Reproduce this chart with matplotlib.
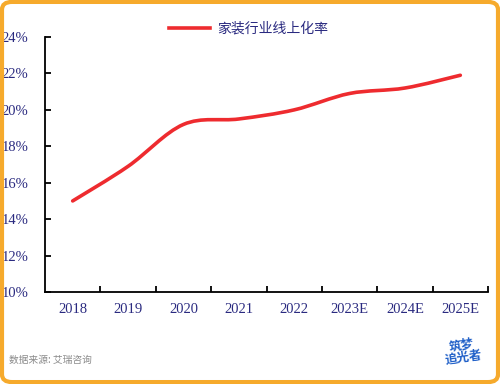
import matplotlib
matplotlib.use("Agg")
import matplotlib.pyplot as plt
from matplotlib.path import Path
from matplotlib.patches import PathPatch, FancyBboxPatch
from matplotlib.lines import Line2D
import numpy as np

categories = ["2018", "2019", "2020", "2021", "2022", "2023E", "2024E", "2025E"]
values = [15.0, 16.9, 19.2, 19.5, 20.0, 20.9, 21.2, 21.9]
series_name = "家装行业线上化率"
y_ticks = [10, 12, 14, 16, 18, 20, 22, 24]
source = "数据来源: 艾瑞咨询"

navy = "#2A2A80"
red = "#EE2B2F"
orange = "#F6AA2C"

fig = plt.figure(figsize=(5.0, 3.84), dpi=100)
ax = fig.add_axes([0.09, 0.2396, 0.886, 0.664])

# smoothed line (Catmull-Rom style Bezier, like Excel smoothing)
x = np.arange(len(values), dtype=float)
y = np.array(values)
verts = [(x[0], y[0])]
codes = [Path.MOVETO]
n = len(x)
for i in range(n - 1):
    p0 = (x[i - 1], y[i - 1]) if i > 0 else (x[i], y[i])
    p1 = (x[i], y[i])
    p2 = (x[i + 1], y[i + 1])
    p3 = (x[i + 2], y[i + 2]) if i + 2 < n else (x[i + 1], y[i + 1])
    c1 = (p1[0] + (p2[0] - p0[0]) / 6, p1[1] + (p2[1] - p0[1]) / 6)
    c2 = (p2[0] - (p3[0] - p1[0]) / 6, p2[1] - (p3[1] - p1[1]) / 6)
    verts += [c1, c2, p2]
    codes += [Path.CURVE4] * 3
ax.add_patch(PathPatch(Path(verts, codes), facecolor="none", edgecolor=red,
                       lw=2.6, capstyle="round", joinstyle="round"))

ax.set_xlim(-0.5, len(categories) - 0.5)
ax.set_ylim(y_ticks[0], y_ticks[-1])
ax.set_yticks(y_ticks)
ax.set_yticklabels([f"{t}%" for t in y_ticks])
ax.set_xticks(x)
ax.set_xticklabels(categories)
ax.set_xticks(np.arange(0.5, len(categories), 1.0), minor=True)

for s in ["top", "right"]:
    ax.spines[s].set_visible(False)
for s in ["left", "bottom"]:
    ax.spines[s].set_linewidth(1.3)
    ax.spines[s].set_color("black")

ax.tick_params(axis="y", direction="in", length=4, width=1.3, colors="black",
               labelcolor=navy, pad=12)
ax.tick_params(axis="x", which="major", length=0, labelcolor=navy, pad=8)
ax.tick_params(axis="x", which="minor", direction="in", length=4, width=1.3, colors="black")
for lab in ax.get_xticklabels() + ax.get_yticklabels():
    lab.set_fontfamily("Liberation Serif")
    lab.set_fontsize(10.5)

# legend
handle = Line2D([], [], color=red, lw=2.6)
leg = fig.legend([handle], [series_name], loc="center", bbox_to_anchor=(0.497, 0.925),
                 frameon=False, handlelength=3.0, handletextpad=0.5,
                 prop={"family": ["Noto Sans CJK SC", "DejaVu Sans"], "size": 10})
for t in leg.get_texts():
    t.set_color(navy)

fig.text(0.018, 0.062, source, fontsize=7, color="#8A8A8A",
         family=["Noto Sans CJK SC", "DejaVu Sans"], va="center")

# logo approximation
fig.text(0.925, 0.085, "筑梦\n追光者", fontsize=9, fontweight="bold", color="#1F5FC8",
         family=["Noto Sans CJK SC", "DejaVu Sans"], ha="center", va="center",
         rotation=8, linespacing=0.95)

# rounded orange frame
fig.patches.append(FancyBboxPatch((0.004, 0.005), 0.992, 0.99,
                                  boxstyle="round,pad=0,rounding_size=0.02",
                                  transform=fig.transFigure, facecolor="none",
                                  edgecolor=orange, lw=3))

fig.savefig("out.png", dpi=100)
